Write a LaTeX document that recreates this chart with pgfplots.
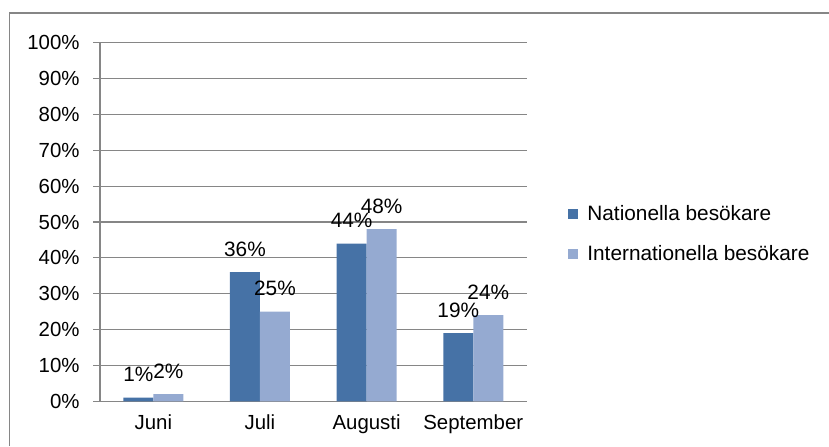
\documentclass[border=0pt]{standalone}
\usepackage{fontspec}
\setmainfont{Liberation Sans}
\usepackage{pgfplots}
\pgfplotsset{compat=1.18}
\definecolor{darkb}{RGB}{70,114,166}
\definecolor{lightb}{RGB}{149,170,209}
\definecolor{gridg}{RGB}{134,134,134}
\begin{document}
\fontsize{10pt}{12pt}\selectfont
\begin{tikzpicture}
\useasboundingbox (0,0) rectangle (414.5pt,223pt);
\draw[gridg, line width=0.6pt] (4.65pt,0) -- (4.65pt,216.5pt) -- (414.5pt,216.5pt);
\begin{axis}[
  at={(50pt,22.35pt)}, anchor=south west,
  scale only axis, width=213.3pt, height=179.3pt,
  ymin=0, ymax=100, ytick={0,10,...,100},
  yticklabel={\pgfmathprintnumber{\tick}\%},
  xmin=-0.5, xmax=3.5, xtick={0,1,2,3},
  xticklabels={Juni,Juli,Augusti,September},
  /pgf/number format/assume math mode=true,
  tick label style={font=\fontsize{10.2pt}{12pt}\selectfont},
  major x tick style={draw=none},
  extra x ticks={-0.5,0.5,1.5,2.5,3.5},
  extra x tick labels={},
  extra x tick style={major tick length=3.3pt, tick style={draw=gridg, line width=0.6pt}},
  axis x line*=bottom, axis y line*=left,
  axis line style={gridg, line width=0.6pt},
  ymajorgrids, grid style={gridg, line width=0.6pt},
  y tick style={draw=gridg, line width=0.6pt},
  tick align=outside, major tick length=3.3pt,
  yticklabel style={xshift=-3.4pt},
  ybar=0pt, bar width=15pt,
  nodes near coords={\pgfmathprintnumber{\pgfplotspointmeta}\%},
  nodes near coords style={anchor=base, yshift=8pt, inner sep=0pt, text=black, font=\fontsize{10.4pt}{12pt}\selectfont},
  legend style={at={(1.097,0.4665)}, anchor=west, draw=none, fill=none, inner sep=0pt,
    row sep=7pt, font=\fontsize{10.4pt}{12pt}\selectfont,
    /tikz/every odd column/.append style={column sep=2.5pt}},
  legend cell align=left,
]
\addplot[fill=darkb, draw=none, legend image code/.code={\fill[darkb] (0pt,-2.5pt) rectangle (5pt,2.5pt);}]
  coordinates {(0,1) (1,36) (2,44) (3,19)};
\addlegendentry{Nationella besökare}
\addplot[fill=lightb, draw=none, legend image code/.code={\fill[lightb] (0pt,-2.5pt) rectangle (5pt,2.5pt);}]
  coordinates {(0,2) (1,25) (2,48) (3,24)};
\addlegendentry{Internationella besökare}
\end{axis}
\end{tikzpicture}
\end{document}
